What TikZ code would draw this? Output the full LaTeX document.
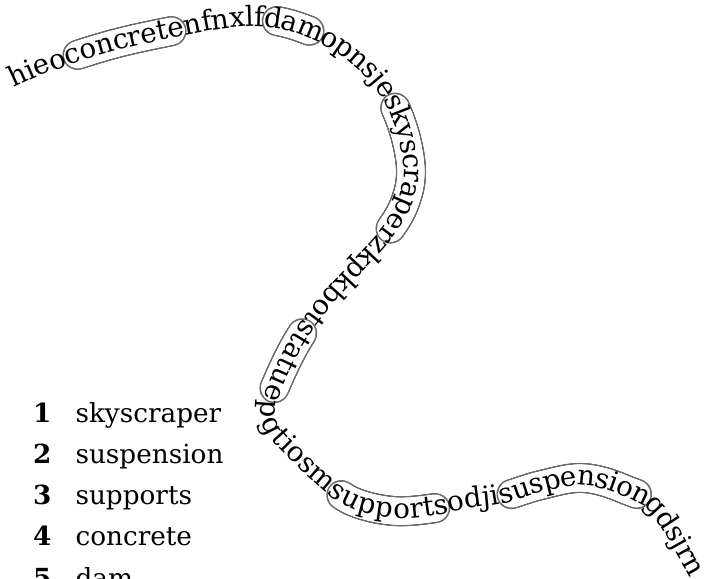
\documentclass[tikz,border=0pt]{standalone}
\usepackage{fontspec}
\setmainfont{DejaVu Serif}
\newfontfamily\pathfamily{DejaVu Serif}[Kerning=Off]
\usetikzlibrary{decorations.text,decorations.markings,calc}

\newcommand\pathfont{\pathfamily\fontsize{9.7}{11}\selectfont}
\newcommand\listfont{\fontsize{9.2}{11}\selectfont}

% lengths for the word tubes
\newlength\tubestart
\newlength\tubeend
\newlength\tubecap
\setlength\tubecap{4.4pt}

% #1 = tube name, #2 = letters before the word, #3 = letters up to its end
\newcommand\measuretube[3]{%
  \settowidth\tubestart{\pathfont #2}%
  \settowidth\tubeend{\pathfont #3}%
  \expandafter\xdef\csname tube#1a\endcsname{\the\dimexpr\tubestart+\tubecap\relax}%
  \expandafter\xdef\csname tube#1b\endcsname{\the\dimexpr\tubeend-\tubecap\relax}%
}

% the winding line of letters, one curve piece from p\b to p\c
\def\wordpath{(p0) \foreach \a/\b/\c/\d in {s/0/1/2,0/1/2/3,1/2/3/4,2/3/4/5,3/4/5/6,
  4/5/6/7,5/6/7/8,6/7/8/9,7/8/9/10,8/9/10/11,9/10/11/12,10/11/12/13,11/12/13/14,
  12/13/14/15,13/14/15/16,14/15/16/17,15/16/17/18,16/17/18/19,17/18/19/20,
  18/19/20/21,19/20/21/22,20/21/22/23,21/22/23/24,22/23/24/25,23/24/25/26,
  24/25/26/27,25/26/27/28,26/27/28/29,27/28/29/30,28/29/30/e}
  { .. controls ($(p\b)+0.1667*(p\c)-0.1667*(p\a)$) and ($(p\c)+0.1667*(p\b)-0.1667*(p\d)$) .. (p\c) }}

\begin{document}
\measuretube{A}{hieo}{hieoconcrete}
\measuretube{B}{hieoconcretenfnxlf}{hieoconcretenfnxlfdam}
\measuretube{C}{hieoconcretenfnxlfdamopnsje}{hieoconcretenfnxlfdamopnsjeskyscraper}
\measuretube{D}{hieoconcretenfnxlfdamopnsjeskyscraperzkpkbot}{hieoconcretenfnxlfdamopnsjeskyscraperzkpkbotstatue}
\measuretube{E}{hieoconcretenfnxlfdamopnsjeskyscraperzkpkbotstatuepgtiosm}{hieoconcretenfnxlfdamopnsjeskyscraperzkpkbotstatuepgtiosmsupports}
\measuretube{F}{hieoconcretenfnxlfdamopnsjeskyscraperzkpkbotstatuepgtiosmsupportsodji}{hieoconcretenfnxlfdamopnsjeskyscraperzkpkbotstatuepgtiosmsupportsodjisuspension}%
\begin{tikzpicture}[x=0.35pt, y=0.35pt]
    \tikzstyle{tube edge}=[fill=black!58]
    \tikzstyle{tube inside}=[fill=white]
    \tikzstyle{list number}=[anchor=base east, inner sep=0pt, font=\listfont\bfseries]
    \tikzstyle{list word}=[anchor=base west, inner sep=0pt, font=\listfont]

    \useasboundingbox (0,0) rectangle (705,-578);
    \clip (0,0) rectangle (705,-578);

    % Points of the winding line
    \foreach \name / \pt in {0/{10,-81},1/{45,-66},2/{110,-45},3/{172,-31},4/{227,-21},
        5/{270,-20},6/{310,-31},7/{348,-52},8/{382,-85},9/{402,-125},10/{411,-170},
        11/{404,-205},12/{385,-236},13/{358,-266},14/{325,-302},15/{298,-340},
        16/{278,-380},17/{268,-409},18/{274,-431},19/{296,-455},20/{326,-483},
        21/{354,-502},22/{394,-511},23/{436,-508},24/{470,-501},25/{501,-497},
        26/{541,-485},27/{583,-478},28/{624,-489},29/{658,-510},30/{700,-580}}
        \coordinate (p\name) at (\pt);
    \coordinate (ps) at ($2*(p0)-(p1)$);
    \coordinate (pe) at ($2*(p30)-(p29)$);

    % Draw the tubes round the hidden words
    \foreach \name in {A,B,C,D,E,F} {
        \edef\ta{\csname tube\name a\endcsname}
        \edef\tb{\csname tube\name b\endcsname}
        \path[decorate, decoration={markings, mark=between positions \ta and \tb step 0.4pt
            with {\fill[tube edge] (0,0) circle (5.25pt);}}] \wordpath;
        \path[decorate, decoration={markings, mark=between positions \ta and \tb step 0.4pt
            with {\fill[tube inside] (0,0) circle (4.7pt);}}] \wordpath;
    }

    % Draw the letters along the line
    \path[decorate, decoration={text along path, raise=-2.5pt,
        text={|\pathfont|hieoconcretenfnxlfdamopnsjeskyscraperzkpkbotstatuepgtiosmsupportsodjisuspensiongdsjrn}}]
        \wordpath;

    % Draw the list of words
    \foreach \name / \word in {1/skyscraper,2/suspension,3/supports,4/concrete,5/dam} {
        \node[list number] (num-\name) at (52,{-422-41.3*(\name-1)}) {\name};
        \node[list word] (word-\name) at (75,{-422-41.3*(\name-1)}) {\word};
    }
\end{tikzpicture}
\end{document}
